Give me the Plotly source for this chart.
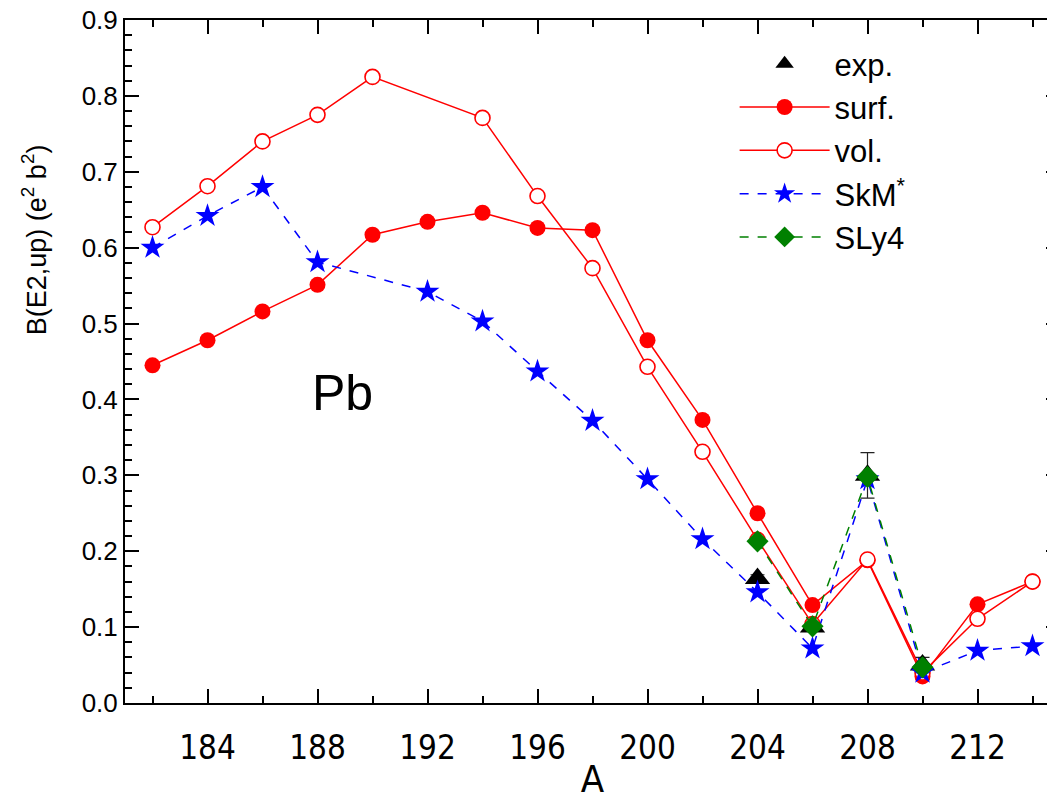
import plotly.graph_objects as go

# ---- data ----
A_surf = [182, 184, 186, 188, 190, 192, 194, 196, 198, 200, 202, 204, 206, 208, 210, 212, 214]
B_surf = [0.445, 0.478, 0.516, 0.551, 0.617, 0.634, 0.646, 0.626, 0.623, 0.478, 0.373, 0.250, 0.129, 0.188, 0.035, 0.130, 0.160]

A_vol = [182, 184, 186, 188, 190, 194, 196, 198, 200, 202, 204, 206, 208, 210, 212, 214]
B_vol = [0.627, 0.681, 0.740, 0.775, 0.825, 0.771, 0.668, 0.573, 0.443, 0.331, 0.215, 0.104, 0.189, 0.040, 0.111, 0.160]

A_skm = [182, 184, 186, 188, 192, 194, 196, 198, 200, 202, 204, 206, 208, 210, 212, 214]
B_skm = [0.600, 0.642, 0.680, 0.581, 0.542, 0.503, 0.437, 0.372, 0.295, 0.216, 0.146, 0.072, 0.295, 0.040, 0.069, 0.075]

A_sly = [204, 206, 208, 210]
B_sly = [0.213, 0.101, 0.298, 0.047]

A_exp = [204, 206, 208, 210]
B_exp = [0.164, 0.100, 0.300, 0.050]
E_exp = [0.005, 0.005, 0.030, 0.010]

x_ticks = [184, 188, 192, 196, 200, 204, 208, 212]

RED = "#ff0000"
BLUE = "#0000ff"
GREEN = "#008000"
SANS = "Liberation Sans, Arial, sans-serif"
NARROW = "Liberation Sans Narrow, Arial Narrow, DejaVu Sans Condensed, sans-serif"

fig = go.Figure()

fig.add_trace(go.Scatter(
    x=A_surf, y=B_surf, name="surf.", mode="lines+markers",
    line=dict(color=RED, width=1.5),
    marker=dict(symbol="circle", size=16, color=RED, line=dict(width=0)),
    legendgroup="b", legendrank=2))

fig.add_trace(go.Scatter(
    x=A_vol, y=B_vol, name="vol.", mode="lines+markers",
    line=dict(color=RED, width=1.5),
    marker=dict(symbol="circle", size=15, color="white", line=dict(color=RED, width=1.6)),
    legendgroup="c", legendrank=3))

fig.add_trace(go.Scatter(
    x=A_exp, y=B_exp, name="exp.", mode="markers",
    marker=dict(symbol="triangle-up", size=22, color="black"),
    error_y=dict(type="data", array=E_exp, visible=True, color="#222222", thickness=1.2, width=7),
    legendgroup="a", legendrank=1))

fig.add_trace(go.Scatter(
    x=A_skm, y=B_skm, name="SkM<sup>*</sup>", mode="lines+markers",
    line=dict(color=BLUE, width=1.5, dash="dash"),
    marker=dict(symbol="star", size=18, color=BLUE, line=dict(width=0)),
    legendgroup="d", legendrank=4))

fig.add_trace(go.Scatter(
    x=A_sly, y=B_sly, name="SLy4", mode="lines+markers",
    line=dict(color=GREEN, width=1.5, dash="dash"),
    marker=dict(symbol="diamond", size=17, color=GREEN, line=dict(width=0)),
    legendgroup="e", legendrank=5))

fig.add_annotation(x=188.9, y=0.408, xref="x", yref="y", text="Pb", showarrow=False,
                   font=dict(family=SANS, size=50, color="black"))

# y-axis title (placed as in the reference, above the axis centre)
fig.add_annotation(x=-0.097, y=0.678, xref="paper", yref="paper",
                   text="B(E2,up) (e<sup>2</sup> b<sup>2</sup>)", textangle=-90,
                   showarrow=False, xanchor="center", yanchor="middle",
                   font=dict(family=SANS, size=27, color="black"))

axis_common = dict(
    showline=True, linecolor="black", linewidth=2, mirror="ticks",
    ticks="inside", tickcolor="black", tickwidth=2, ticklen=14,
    showgrid=False, zeroline=False, automargin=False, ticklabeloverflow="allow",
)

fig.update_xaxes(
    **axis_common,
    range=[181, 215], tickmode="array", tickvals=x_ticks,
    ticktext=[str(t) for t in x_ticks],
    minor=dict(ticks="inside", dtick=2, tick0=182, ticklen=7, tickwidth=2, tickcolor="black", showgrid=False),
    tickfont=dict(family=NARROW, size=33, color="black"),
    title=dict(text="A", font=dict(family=NARROW, size=38, color="black"), standoff=0),
    ticklabelstandoff=14,
)

fig.update_yaxes(
    **axis_common,
    range=[0, 0.9], dtick=0.1, tick0=0, tickformat=".1f",
    minor=dict(ticks="inside", dtick=0.02, ticklen=7, tickwidth=2, tickcolor="black", showgrid=False),
    tickfont=dict(family=SANS, size=26, color="black"),
)

fig.update_layout(
    width=1055, height=806,
    margin=dict(l=117, r=3, t=12, b=111),
    paper_bgcolor="white", plot_bgcolor="white",
    showlegend=True,
    legend=dict(
        x=0.652, y=0.975, xanchor="left", yanchor="top",
        bgcolor="rgba(0,0,0,0)", borderwidth=0,
        font=dict(family=SANS, size=31, color="black"),
        traceorder="grouped", tracegroupgap=0, itemwidth=90,
    ),
)

fig.write_html("out.html")
